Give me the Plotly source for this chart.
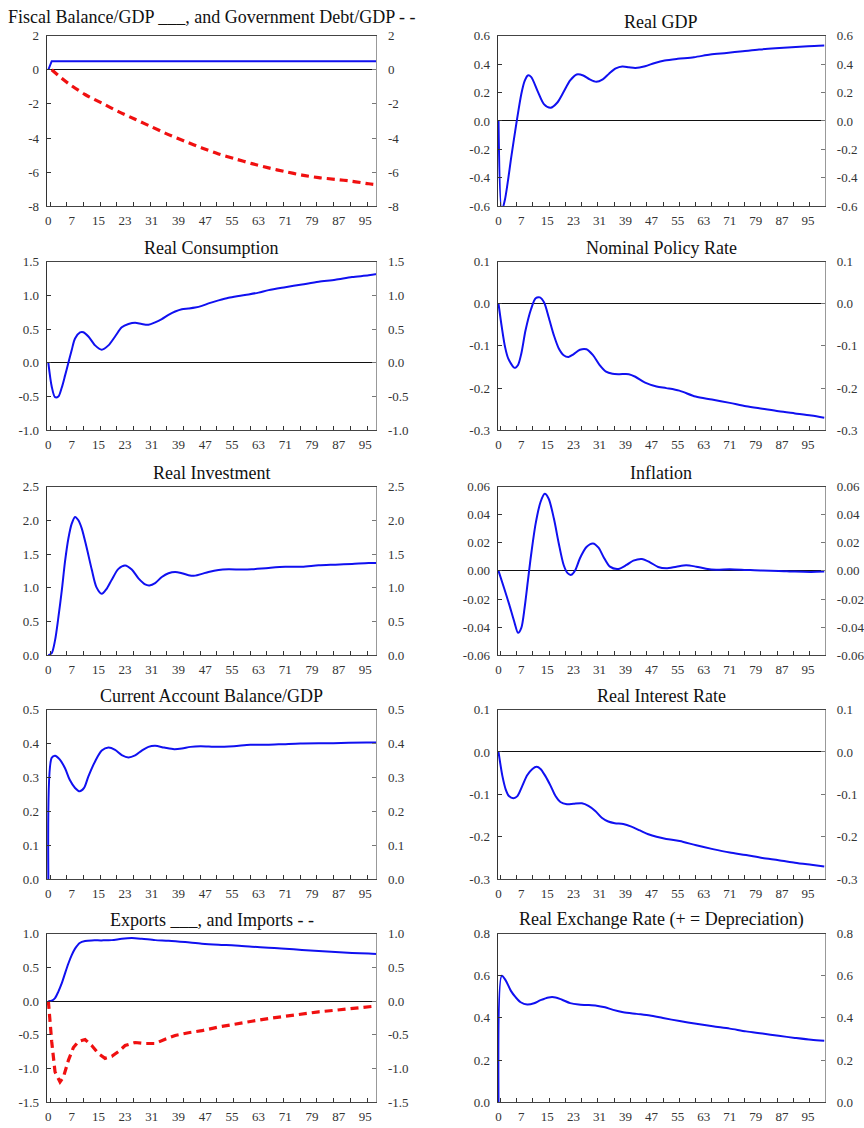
import plotly.graph_objects as go

# ---------------------------------------------------------------------------
# Impulse responses (deviation from baseline), quarters after the shock
# ---------------------------------------------------------------------------
quarter_ticks = [0, 7, 15, 23, 31, 39, 47, 55, 63, 71, 79, 87, 95]

# Fiscal balance / GDP (solid) and government debt / GDP (dashed)
fiscal_t = [0, 1, 99]
fiscal_balance = [0.0, 0.5, 0.5]
debt_t = [1, 4, 6, 11, 16, 21, 26, 31, 36, 41, 46, 51, 56, 61, 66, 71, 76, 81, 86, 91, 96, 99]
gov_debt = [0.0, -0.5, -0.8, -1.45, -1.95, -2.45, -2.9, -3.35, -3.8, -4.2, -4.58, -4.93,
            -5.22, -5.5, -5.75, -5.97, -6.17, -6.32, -6.42, -6.53, -6.68, -6.75]

# Real GDP
gdp_t = [0, 1, 2, 4, 5.6, 7, 8, 9, 10, 12, 14, 16, 18, 20, 22, 24, 26, 28, 30, 32, 34,
         36, 38, 40, 42, 45, 48, 51, 55, 60, 65, 70, 75, 80, 85, 90, 95, 100]
real_gdp = [0.0, -0.63, -0.55, -0.24, 0.0, 0.19, 0.28, 0.32, 0.31, 0.21, 0.117, 0.093,
            0.128, 0.205, 0.285, 0.327, 0.32, 0.292, 0.275, 0.292, 0.334, 0.369, 0.383,
            0.378, 0.373, 0.385, 0.408, 0.425, 0.437, 0.448, 0.467, 0.478, 0.49, 0.502,
            0.511, 0.518, 0.525, 0.53]

# Real consumption
cons_t = [0, 1, 2, 3, 4, 5, 6, 7, 8, 9.5, 10.5, 12, 14, 16, 18, 20, 22, 24, 26, 28, 30,
          32, 34, 36, 38, 40, 42, 44, 46, 48, 51, 54, 57, 60, 63, 66, 71, 76, 81, 86,
          91, 96, 99]
real_consumption = [0.0, -0.35, -0.51, -0.5, -0.37, -0.19, 0.0, 0.19, 0.36, 0.45, 0.453,
                    0.39, 0.258, 0.195, 0.258, 0.39, 0.526, 0.575, 0.594, 0.575, 0.565,
                    0.6, 0.648, 0.71, 0.76, 0.794, 0.804, 0.818, 0.843, 0.88, 0.925,
                    0.964, 0.99, 1.013, 1.04, 1.077, 1.12, 1.16, 1.2, 1.23, 1.27, 1.296,
                    1.32]

# Nominal policy rate
policy_t = [0, 1, 2, 3, 5, 6, 7, 8.3, 10, 11.4, 12.7, 14, 15.4, 17, 18.5, 20, 21.5, 23,
            25, 27, 29, 31, 33, 35, 37, 40, 42, 45, 48.5, 51.5, 55.5, 60.5, 65.5, 71,
            76, 81, 86, 91, 96, 100]
policy_rate = [0.0, -0.055, -0.102, -0.13, -0.152, -0.145, -0.118, -0.063, -0.0125, 0.013,
               0.015, 0.003, -0.032, -0.075, -0.106, -0.122, -0.126, -0.12, -0.109,
               -0.108, -0.122, -0.145, -0.161, -0.166, -0.167, -0.167, -0.173, -0.187,
               -0.196, -0.2, -0.206, -0.22, -0.227, -0.235, -0.243, -0.249, -0.255,
               -0.26, -0.265, -0.27]

# Real investment
inv_t = [0, 1, 2, 3, 4, 5, 6, 7, 8, 9, 10, 11.4, 13, 14.4, 16, 17.4, 19, 21, 23, 25, 27,
         29, 30.3, 32, 34, 36, 38, 40, 42, 44, 46, 48, 51, 54, 58, 61, 66, 71, 76, 81,
         86, 91, 96, 99]
real_investment = [0.0, 0.03, 0.22, 0.56, 0.95, 1.39, 1.73, 1.95, 2.05, 2.0, 1.88, 1.61,
                   1.27, 1.01, 0.91, 0.98, 1.12, 1.28, 1.33, 1.27, 1.14, 1.05, 1.035,
                   1.07, 1.16, 1.216, 1.235, 1.216, 1.187, 1.18, 1.206, 1.235, 1.265,
                   1.274, 1.27, 1.274, 1.294, 1.31, 1.313, 1.333, 1.343, 1.353, 1.367,
                   1.367]

# Inflation
infl_t = [0, 1.7, 3.3, 4.8, 6, 7, 8, 9, 10, 11.4, 12.9, 14.2, 15.4, 17, 18.5, 20, 21.2,
          22.3, 23.6, 25, 27, 29, 30.7, 32.2, 34.2, 36.8, 39.3, 41.4, 44, 46.5, 49, 51.5,
          54.6, 57.6, 60.7, 63.7, 66.8, 71, 76, 81, 86, 91, 96, 100]
inflation = [0.0, -0.0122, -0.024, -0.0358, -0.044, -0.0405, -0.0264, -0.0075, 0.0113,
             0.0336, 0.049, 0.0548, 0.0513, 0.0372, 0.0195, 0.0042, -0.0016, -0.0028,
             0.0007, 0.009, 0.017, 0.0195, 0.0165, 0.0101, 0.003, 0.0014, 0.0042,
             0.0073, 0.0085, 0.0061, 0.0028, 0.0019, 0.003, 0.004, 0.003, 0.0016,
             0.0009, 0.0012, 0.0007, 0.0002, 0.0, -0.0005, -0.0007, -0.0005]

# Current account balance / GDP
ca_t = [0, 1, 2, 3.4, 5, 6.4, 8, 9.4, 10.7, 12, 14, 16, 18, 20, 22, 24, 26, 28, 30, 32,
        34.7, 37.7, 40, 42.6, 45.6, 50.6, 55.6, 60.5, 65.5, 70.5, 75.5, 85.4, 95.3, 99]
current_account = [0.0, 0.358, 0.364, 0.353, 0.327, 0.293, 0.269, 0.259, 0.269, 0.303,
                   0.347, 0.379, 0.388, 0.381, 0.366, 0.359, 0.365, 0.379, 0.39, 0.393,
                   0.388, 0.383, 0.385, 0.39, 0.392, 0.39, 0.392, 0.396, 0.396, 0.398,
                   0.4, 0.401, 0.403, 0.403]

# Real interest rate
rir_t = [0, 1.2, 2.2, 3.2, 4.6, 5.8, 7.3, 8.8, 10.4, 11.7, 12.9, 14.4, 16, 17.5, 19, 21,
         23, 25.6, 27.6, 29.7, 31.7, 33.7, 35.7, 38.3, 40.8, 43.4, 46, 48.5, 51.5,
         55.6, 60.7, 65.8, 71, 76, 81, 86, 91, 96, 100]
real_interest_rate = [0.0, -0.057, -0.088, -0.104, -0.109, -0.104, -0.08, -0.055, -0.04,
                      -0.035, -0.04, -0.057, -0.08, -0.104, -0.118, -0.123, -0.122,
                      -0.121, -0.127, -0.139, -0.155, -0.164, -0.168, -0.17, -0.176,
                      -0.185, -0.194, -0.2, -0.205, -0.21, -0.22, -0.229, -0.237,
                      -0.243, -0.25, -0.255, -0.261, -0.266, -0.27]

# Exports (solid) and imports (dashed)
exp_t = [0, 1, 2, 3, 4, 5, 6, 7, 8, 9.4, 11, 13, 16, 19, 22, 25, 28, 32, 36, 41, 46, 51,
         56, 61, 66, 71, 76, 81, 86, 91, 96, 99]
exports = [0.0, 0.005, 0.044, 0.14, 0.26, 0.41, 0.556, 0.68, 0.776, 0.86, 0.888, 0.898,
           0.898, 0.902, 0.922, 0.932, 0.922, 0.902, 0.893, 0.873, 0.849, 0.834, 0.824,
           0.805, 0.79, 0.776, 0.756, 0.741, 0.727, 0.712, 0.702, 0.693]
imp_t = [0, 1, 2, 3.5, 4.5, 6, 7.5, 9, 11, 13, 15, 17, 19, 21, 23, 26, 29, 32, 35, 38,
         42, 46, 51, 56, 61, 66, 71, 76, 81, 86, 91, 96, 99]
imports = [0.0, -0.6, -1.05, -1.2, -1.13, -0.88, -0.69, -0.6, -0.57, -0.66, -0.78, -0.85,
           -0.82, -0.75, -0.66, -0.615, -0.63, -0.63, -0.566, -0.51, -0.47, -0.44,
           -0.385, -0.337, -0.3, -0.26, -0.224, -0.19, -0.16, -0.137, -0.112, -0.083,
           -0.07]

# Real exchange rate (+ = depreciation)
rer_t = [0, 1, 2.2, 3.8, 5.3, 6.8, 8.8, 10.9, 12.9, 15.4, 17.5, 19.5, 22, 24.6, 27.1,
         30.1, 32.7, 35.2, 38.3, 42.4, 46.5, 50.5, 55.6, 60.7, 65.8, 71, 76, 81, 86, 91,
         96, 100]
real_exchange_rate = [0.0, 0.6, 0.578, 0.528, 0.497, 0.474, 0.463, 0.469, 0.484, 0.497,
                      0.497, 0.486, 0.47, 0.463, 0.461, 0.458, 0.45, 0.438, 0.427, 0.419,
                      0.411, 0.399, 0.385, 0.372, 0.36, 0.349, 0.336, 0.326, 0.315,
                      0.305, 0.296, 0.291]

BLUE = "#1010f0"
RED = "#f01010"
FONT = "Liberation Serif, Times New Roman, serif"

# (title, y-range, y-step, decimals, [(t, values, dashed, shape), ...])
panels = [
    ("Fiscal Balance/GDP ___, and Government Debt/GDP - -", (-8, 2), 2, 0,
     [(fiscal_t, fiscal_balance, False, "linear"), (debt_t, gov_debt, True, "spline")]),
    ("Real GDP", (-0.6, 0.6), 0.2, 1, [(gdp_t, real_gdp, False, "spline")]),
    ("Real Consumption", (-1.0, 1.5), 0.5, 1, [(cons_t, real_consumption, False, "spline")]),
    ("Nominal Policy Rate", (-0.3, 0.1), 0.1, 1, [(policy_t, policy_rate, False, "spline")]),
    ("Real Investment", (0.0, 2.5), 0.5, 1, [(inv_t, real_investment, False, "spline")]),
    ("Inflation", (-0.06, 0.06), 0.02, 2, [(infl_t, inflation, False, "spline")]),
    ("Current Account Balance/GDP", (0.0, 0.5), 0.1, 1,
     [(ca_t, current_account, False, "spline")]),
    ("Real Interest Rate", (-0.3, 0.1), 0.1, 1, [(rir_t, real_interest_rate, False, "spline")]),
    ("Exports ___, and Imports - -", (-1.5, 1.0), 0.5, 1,
     [(exp_t, exports, False, "spline"), (imp_t, imports, True, "linear")]),
    ("Real Exchange Rate (+ = Depreciation)", (0.0, 0.8), 0.2, 1,
     [(rer_t, real_exchange_rate, False, "spline")]),
]

W, H = 864, 1128
col_px = [(45, 377), (499, 829)]
col_xrange = [(-0.5, 98.3), (-0.3, 100.3)]
row_px = [(29, 202), (258, 429), (486, 657), (712, 884), (939, 1110)]


def ticks_for(lo, hi, step, dec):
    vals, text = [], []
    k = 0
    while True:
        v = round(lo + k * step, 6)
        if v > hi + 1e-9:
            break
        v = v + 0.0
        vals.append(v)
        s = f"{v:.{dec}f}"
        if s.startswith("-") and float(s) == 0:
            s = s[1:]
        text.append(s)
        k += 1
    return vals, text


fig = go.Figure()
layout = {}
annotations = []
tick_font = dict(family=FONT, size=13, color="#333333")

for i, (title, (ylo, yhi), step, dec, series) in enumerate(panels):
    n = i + 1
    row, col = divmod(i, 2)
    xname = "x" if n == 1 else f"x{n}"
    yname = "y" if n == 1 else f"y{n}"
    rname = f"y{n + 10}"
    xkey = "xaxis" if n == 1 else f"xaxis{n}"
    ykey = "yaxis" if n == 1 else f"yaxis{n}"
    rkey = f"yaxis{n + 10}"

    x0, x1 = col_px[col]
    top, bot = row_px[row]
    xdom = [x0 / W, x1 / W]
    ydom = [1 - bot / H, 1 - top / H]
    yvals, ytext = ticks_for(ylo, yhi, step, dec)

    layout[xkey] = dict(
        domain=xdom, anchor=yname, range=list(col_xrange[col]),
        tickmode="array", tickvals=quarter_ticks,
        ticktext=[str(v) for v in quarter_ticks],
        ticks="", showgrid=False, zeroline=False,
        showline=True, mirror=True, linecolor="#444444", linewidth=1,
        tickfont=tick_font, ticklabelstandoff=2,
        minor=dict(ticks="inside", tick0=0.5, dtick=5, ticklen=4,
                   tickcolor="#333333", showgrid=False),
        fixedrange=True,
    )
    layout[ykey] = dict(
        domain=ydom, anchor=xname, range=[ylo, yhi],
        tickmode="array", tickvals=yvals, ticktext=ytext,
        ticks="inside", ticklen=4, tickcolor="#333333",
        showgrid=False, zeroline=True, zerolinecolor="#111111", zerolinewidth=1,
        showline=True, linecolor="#333333", linewidth=1,
        tickfont=tick_font, ticklabelstandoff=4,
    )
    layout[rkey] = dict(
        overlaying=yname, anchor=xname, side="right", range=[ylo, yhi],
        tickmode="array", tickvals=yvals, ticktext=ytext,
        ticks="inside", ticklen=4, tickcolor="#777777",
        showgrid=False, zeroline=False,
        showline=True, linecolor="#999999", linewidth=1,
        tickfont=tick_font, ticklabelstandoff=8,
    )

    for t, vals, dashed, shape in series:
        fig.add_trace(go.Scatter(
            x=t, y=vals, xaxis=xname, yaxis=yname, mode="lines",
            line=dict(color=RED if dashed else BLUE,
                      width=3.2 if dashed else 2,
                      dash="8px,5px" if dashed else "solid",
                      shape=shape, smoothing=0.8 if shape == "spline" else None),
            showlegend=False, hoverinfo="skip",
        ))

    # empty trace so the right-hand value axis is rendered
    fig.add_trace(go.Scatter(
        x=[None], y=[None], xaxis=xname, yaxis=rname, mode="lines",
        showlegend=False, hoverinfo="skip",
    ))

    # the wide fiscal title spans the top tick labels, so it sits a little higher
    wide = len(title) > 45
    annotations.append(dict(
        text=title, xref="paper", yref="paper",
        x=(xdom[0] + xdom[1]) / 2, y=ydom[1], xanchor="center", yanchor="bottom",
        yshift=7 if wide else 2, showarrow=False,
        font=dict(family=FONT, size=18, color="#111111"),
    ))

fig.update_layout(
    width=W, height=H, margin=dict(l=0, r=0, t=0, b=0),
    paper_bgcolor="white", plot_bgcolor="white",
    annotations=annotations, showlegend=False,
    **layout,
)

fig.write_html("out.html", config={"displayModeBar": False})
